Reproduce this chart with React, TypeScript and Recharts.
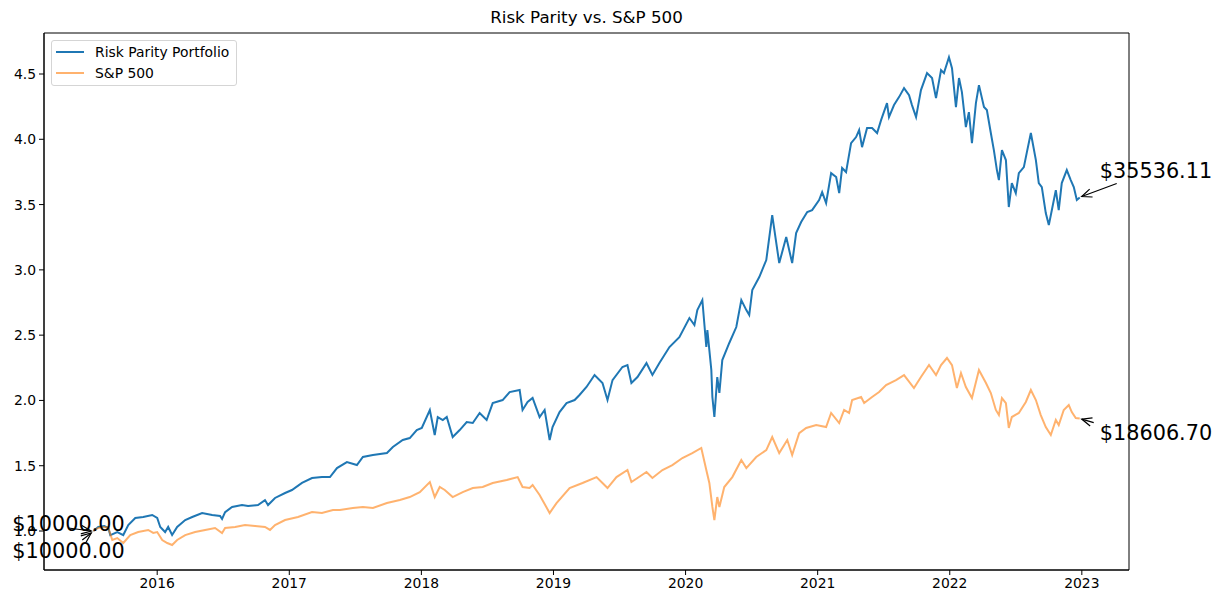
import { LineChart, Line, XAxis, YAxis, ReferenceDot, ReferenceArea } from 'recharts';

// Risk parity portfolio, growth of 1 (decimal years)
const rpDates = [
  2015.516, 2015.554, 2015.599, 2015.63, 2015.645, 2015.698, 2015.743, 2015.781, 2015.834, 2015.894,
  2015.962, 2016.0, 2016.023, 2016.06, 2016.083, 2016.113, 2016.151, 2016.212, 2016.265, 2016.34,
  2016.416, 2016.476, 2016.491, 2016.514, 2016.567, 2016.642, 2016.688, 2016.763, 2016.816, 2016.839,
  2016.892, 2016.968, 2017.02, 2017.096, 2017.172, 2017.247, 2017.308, 2017.361, 2017.436, 2017.512,
  2017.557, 2017.633, 2017.739, 2017.784, 2017.859, 2017.912, 2017.965, 2018.003, 2018.064, 2018.101,
  2018.124, 2018.162, 2018.192, 2018.237, 2018.29, 2018.343, 2018.389, 2018.441, 2018.494, 2018.54,
  2018.615, 2018.668, 2018.744, 2018.766, 2018.804, 2018.842, 2018.895, 2018.933, 2018.971, 2018.993,
  2019.046, 2019.099, 2019.16, 2019.197, 2019.25, 2019.311, 2019.371, 2019.409, 2019.447, 2019.522,
  2019.56, 2019.59, 2019.636, 2019.704, 2019.749, 2019.802, 2019.878, 2019.953, 2020.029, 2020.067,
  2020.089, 2020.127, 2020.157, 2020.165, 2020.195, 2020.203, 2020.218, 2020.24, 2020.256, 2020.278,
  2020.331, 2020.384, 2020.422, 2020.46, 2020.482, 2020.505, 2020.558, 2020.611, 2020.656, 2020.709,
  2020.762, 2020.807, 2020.837, 2020.875, 2020.921, 2020.958, 2021.011, 2021.034, 2021.064, 2021.102,
  2021.14, 2021.163, 2021.185, 2021.215, 2021.253, 2021.291, 2021.314, 2021.336, 2021.374, 2021.412,
  2021.45, 2021.48, 2021.525, 2021.54, 2021.578, 2021.616, 2021.654, 2021.692, 2021.714, 2021.745,
  2021.782, 2021.828, 2021.866, 2021.896, 2021.934, 2021.956, 2021.994, 2022.017, 2022.047, 2022.07,
  2022.092, 2022.122, 2022.145, 2022.168, 2022.198, 2022.221, 2022.259, 2022.281, 2022.311, 2022.334,
  2022.357, 2022.372, 2022.395, 2022.425, 2022.447, 2022.47, 2022.5, 2022.523, 2022.561, 2022.584,
  2022.614, 2022.652, 2022.674, 2022.697, 2022.727, 2022.75, 2022.773, 2022.803, 2022.825, 2022.848,
  2022.886, 2022.916, 2022.939, 2022.962, 2022.984,
];
const rpValues = [
  1.0, 1.031, 1.038, 1.023, 0.969, 0.992, 0.969, 1.046, 1.1, 1.107,
  1.123, 1.1, 1.031, 0.992, 1.031, 0.969, 1.031, 1.084, 1.107, 1.138,
  1.123, 1.115, 1.092, 1.145, 1.184, 1.199, 1.191, 1.199, 1.237, 1.199,
  1.253, 1.291, 1.314, 1.368, 1.406, 1.413, 1.413, 1.482, 1.528, 1.505,
  1.567, 1.582, 1.597, 1.643, 1.697, 1.712, 1.773, 1.789, 1.927, 1.735,
  1.873, 1.85, 1.873, 1.72, 1.773, 1.835, 1.827, 1.904, 1.85, 1.98,
  2.003, 2.064, 2.08, 1.927, 1.988, 2.019, 1.873, 1.927, 1.697, 1.796,
  1.911, 1.98, 2.003, 2.042, 2.103, 2.195, 2.133, 2.003, 2.156, 2.256,
  2.271, 2.133, 2.179, 2.286, 2.195, 2.286, 2.409, 2.485, 2.631, 2.577,
  2.692, 2.769, 2.409, 2.539, 2.233, 2.026, 1.873, 2.179, 2.057, 2.309,
  2.44, 2.562, 2.769, 2.692, 2.654, 2.845, 2.945, 3.075, 3.42, 3.052,
  3.251, 3.052, 3.282, 3.366, 3.443, 3.458, 3.535, 3.596, 3.512, 3.741,
  3.711, 3.588, 3.78, 3.749, 3.971, 4.017, 4.071, 3.94, 4.086, 4.086,
  4.048, 4.147, 4.277, 4.17, 4.262, 4.323, 4.392, 4.338, 4.262, 4.17,
  4.377, 4.507, 4.469, 4.315, 4.53, 4.507, 4.629, 4.545, 4.247, 4.469,
  4.361, 4.093, 4.208, 3.971, 4.277, 4.415, 4.247, 4.224, 4.048, 3.917,
  3.764, 3.688, 3.917, 3.841, 3.481, 3.665, 3.588, 3.741, 3.787, 3.902,
  4.048, 3.841, 3.665, 3.634, 3.435, 3.343, 3.458, 3.611, 3.458, 3.665,
  3.764, 3.688, 3.634, 3.535, 3.554,
];

// S&P 500, growth of 1
const spDates = [
  2015.516, 2015.554, 2015.599, 2015.63, 2015.66, 2015.698, 2015.743, 2015.796, 2015.856, 2015.932,
  2015.97, 2016.0, 2016.038, 2016.076, 2016.113, 2016.151, 2016.212, 2016.287, 2016.363, 2016.438,
  2016.491, 2016.514, 2016.59, 2016.665, 2016.741, 2016.816, 2016.854, 2016.892, 2016.968, 2017.066,
  2017.172, 2017.247, 2017.33, 2017.383, 2017.481, 2017.557, 2017.633, 2017.739, 2017.837, 2017.912,
  2017.988, 2018.064, 2018.101, 2018.139, 2018.177, 2018.237, 2018.313, 2018.389, 2018.464, 2018.54,
  2018.646, 2018.729, 2018.766, 2018.819, 2018.842, 2018.895, 2018.971, 2019.023, 2019.122, 2019.22,
  2019.326, 2019.371, 2019.409, 2019.477, 2019.56, 2019.59, 2019.636, 2019.704, 2019.749, 2019.825,
  2019.9, 2019.976, 2020.051, 2020.119, 2020.157, 2020.18, 2020.203, 2020.218, 2020.24, 2020.256,
  2020.293, 2020.354, 2020.422, 2020.46, 2020.535, 2020.611, 2020.656, 2020.709, 2020.77, 2020.807,
  2020.86, 2020.913, 2020.989, 2021.064, 2021.102, 2021.163, 2021.2, 2021.238, 2021.261, 2021.329,
  2021.352, 2021.412, 2021.465, 2021.518, 2021.593, 2021.654, 2021.729, 2021.782, 2021.843, 2021.896,
  2021.934, 2021.979, 2022.017, 2022.054, 2022.085, 2022.122, 2022.168, 2022.221, 2022.274, 2022.311,
  2022.349, 2022.372, 2022.395, 2022.425, 2022.447, 2022.47, 2022.523, 2022.576, 2022.614, 2022.652,
  2022.689, 2022.727, 2022.765, 2022.803, 2022.825, 2022.863, 2022.901, 2022.924, 2022.954, 2022.984,
];
const spValues = [
  1.0, 1.023, 1.031, 1.023, 0.931, 0.946, 0.908, 0.969, 0.992, 1.008,
  0.985, 0.992, 0.931, 0.908, 0.893, 0.931, 0.969, 0.992, 1.008, 1.023,
  0.985, 1.023, 1.031, 1.046, 1.038, 1.031, 1.008, 1.046, 1.084, 1.107,
  1.145, 1.138, 1.161, 1.161, 1.176, 1.184, 1.176, 1.214, 1.237, 1.26,
  1.298, 1.375, 1.26, 1.337, 1.314, 1.26, 1.298, 1.329, 1.337, 1.368,
  1.391, 1.413, 1.337, 1.329, 1.352, 1.276, 1.138, 1.214, 1.329, 1.368,
  1.413, 1.368, 1.329, 1.413, 1.467, 1.375, 1.406, 1.452, 1.406, 1.467,
  1.505, 1.559, 1.597, 1.636, 1.467, 1.368, 1.184, 1.084, 1.26, 1.184,
  1.337, 1.413, 1.544, 1.482, 1.567, 1.62, 1.72, 1.597, 1.697, 1.582,
  1.75, 1.789, 1.812, 1.796, 1.904, 1.827, 1.927, 1.904, 2.003, 2.026,
  1.98, 2.026, 2.064, 2.118, 2.156, 2.194, 2.095, 2.179, 2.271, 2.194,
  2.271, 2.325, 2.271, 2.095, 2.21, 2.103, 2.018, 2.233, 2.133, 2.057,
  1.927, 1.888, 2.018, 1.98, 1.789, 1.873, 1.904, 1.988, 2.08, 2.003,
  1.888, 1.796, 1.735, 1.85, 1.812, 1.927, 1.965, 1.911, 1.865, 1.861,
];

const yearTicks = [2016, 2017, 2018, 2019, 2020, 2021, 2022, 2023];
const valueTicks = [1.0, 1.5, 2.0, 2.5, 3.0, 3.5, 4.0, 4.5];
const startLabel = '$10000.00';
const rpEndLabel = '$35536.11';
const spEndLabel = '$18606.70';

const X_DOMAIN = [2015.143, 2023.357];
const Y_DOMAIN = [0.7014, 4.814];

const rpData = rpDates.map((t, i) => ({ t, v: rpValues[i] }));
const spData = spDates.map((t, i) => ({ t, v: spValues[i] }));

const BLUE = '#1f77b4';
const ORANGE = '#ff7f0e';
const FONT = "'DejaVu Sans', 'Liberation Sans', sans-serif";

// text offset (tx, ty = baseline), arrow tail (ax, ay) and head (hx, hy), all relative to the point
type Note = { text: string; tx: number; ty: number; ax: number; ay: number; hx: number; hy: number };

function makeNote(n: Note) {
  return (props: any) => {
    const { cx, cy } = props;
    const x1 = cx + n.ax;
    const y1 = cy + n.ay;
    const x2 = cx + n.hx;
    const y2 = cy + n.hy;
    const ang = Math.atan2(y2 - y1, x2 - x1);
    const len = 10;
    const half = 4.2;
    const bx = x2 - len * Math.cos(ang);
    const by = y2 - len * Math.sin(ang);
    const p1 = `${bx - half * Math.sin(ang)},${by + half * Math.cos(ang)}`;
    const p2 = `${bx + half * Math.sin(ang)},${by - half * Math.cos(ang)}`;
    return (
      <g>
        <text x={cx + n.tx} y={cy + n.ty} fontSize={20.8} fill="#000" fontFamily={FONT}>
          {n.text}
        </text>
        <line x1={x1} y1={y1} x2={x2} y2={y2} stroke="#000" strokeWidth={1.2} />
        <polyline points={`${p1} ${x2},${y2} ${p2}`} fill="none" stroke="#000" strokeWidth={1.2} />
      </g>
    );
  };
}

function LegendBox() {
  const items = [
    { name: 'Risk Parity Portfolio', color: BLUE, opacity: 1 },
    { name: 'S&P 500', color: ORANGE, opacity: 0.6 },
  ];
  return (
    <div
      style={{
        position: 'absolute',
        left: 51,
        top: 40,
        width: 184,
        height: 44,
        border: '1px solid #d5d5d5',
        borderRadius: 3,
        background: 'rgba(255,255,255,0.8)',
        fontFamily: FONT,
        fontSize: 13.9,
      }}
    >
      {items.map((it, i) => (
        <div key={it.name} style={{ position: 'absolute', left: 0, top: 2 + i * 20.8, height: 18, width: '100%' }}>
          <svg width={36} height={18} style={{ position: 'absolute', left: 0, top: 0 }}>
            <line x1={4} y1={9} x2={32} y2={9} stroke={it.color} strokeOpacity={it.opacity} strokeWidth={2} />
          </svg>
          <span style={{ position: 'absolute', left: 43, top: 0, lineHeight: '18px', whiteSpace: 'nowrap' }}>{it.name}</span>
        </div>
      ))}
    </div>
  );
}

export default function App() {
  const rpLast = rpData.length - 1;
  const spLast = spData.length - 1;
  return (
    <div style={{ position: 'absolute', left: 0, top: 0, width: 1223, height: 605, background: '#fff', fontFamily: FONT }}>
      <div
        style={{
          position: 'absolute',
          left: 44,
          width: 1085,
          top: 7,
          textAlign: 'center',
          fontSize: 16.7,
          lineHeight: '20px',
        }}
      >
        Risk Parity vs. S&amp;P 500
      </div>
      <LineChart width={1223} height={605} margin={{ top: 33, right: 94, bottom: 0, left: 0 }}>
        <XAxis
          type="number"
          dataKey="t"
          domain={X_DOMAIN}
          ticks={yearTicks}
          tickFormatter={(v) => String(v)}
          height={35}
          tickSize={5}
          tickMargin={3}
          stroke="#000"
          tick={{ fill: '#000', fontSize: 13.9 }}
          allowDataOverflow
        />
        <YAxis
          type="number"
          domain={Y_DOMAIN}
          ticks={valueTicks}
          tickFormatter={(v) => v.toFixed(1)}
          width={44}
          tickSize={5}
          tickMargin={3}
          stroke="#000"
          tick={{ fill: '#000', fontSize: 13.9 }}
          allowDataOverflow
        />
        <ReferenceArea
          x1={X_DOMAIN[0]}
          x2={X_DOMAIN[1]}
          y1={Y_DOMAIN[0]}
          y2={Y_DOMAIN[1]}
          fill="none"
          stroke="#000"
          strokeWidth={1}
          ifOverflow="visible"
        />
        <Line
          data={rpData}
          dataKey="v"
          name="Risk Parity Portfolio"
          type="linear"
          stroke={BLUE}
          strokeWidth={2}
          dot={false}
          isAnimationActive={false}
        />
        <Line
          data={spData}
          dataKey="v"
          name="S&P 500"
          type="linear"
          stroke={ORANGE}
          strokeOpacity={0.6}
          strokeWidth={2}
          dot={false}
          isAnimationActive={false}
        />
        <ReferenceDot
          x={rpDates[0]}
          y={rpValues[0]}
          r={0}
          ifOverflow="visible"
          shape={makeNote({ text: startLabel, tx: -81, ty: 0, ax: -25, ay: -3, hx: -2, hy: 0 })}
        />
        <ReferenceDot
          x={spDates[0]}
          y={spValues[0]}
          r={0}
          ifOverflow="visible"
          shape={makeNote({ text: startLabel, tx: -81, ty: 27, ax: -11, ay: 9, hx: -2, hy: 2 })}
        />
        <ReferenceDot
          x={rpDates[rpLast]}
          y={rpValues[rpLast]}
          r={0}
          ifOverflow="visible"
          shape={makeNote({ text: rpEndLabel, tx: 20, ty: -20, ax: 37, ay: -14, hx: 2, hy: -1 })}
        />
        <ReferenceDot
          x={spDates[spLast]}
          y={spValues[spLast]}
          r={0}
          ifOverflow="visible"
          shape={makeNote({ text: spEndLabel, tx: 20, ty: 21, ax: 14, ay: 4, hx: 2, hy: 0.5 })}
        />
      </LineChart>
      <LegendBox />
    </div>
  );
}
